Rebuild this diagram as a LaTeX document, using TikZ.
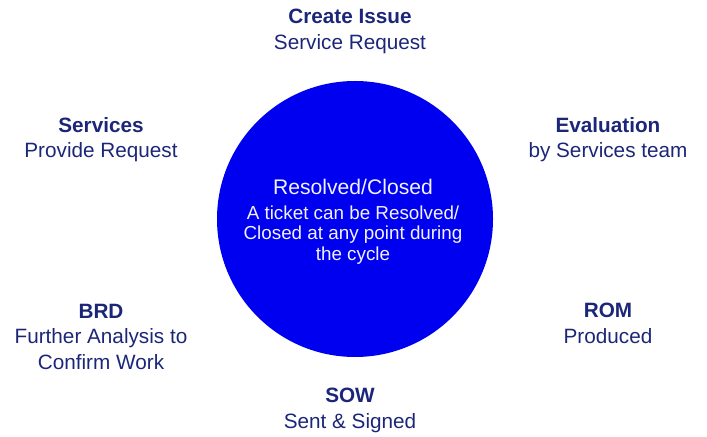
\documentclass[tikz,border=0pt]{standalone}
\usepackage{fontspec}
\setmainfont{Liberation Sans}
\definecolor{navy}{RGB}{28,38,120}
\definecolor{cblue}{RGB}{0,0,240}
\begin{document}
\begin{tikzpicture}[x=1bp,y=-1bp,
  lbl/.style={text=navy,align=center,font=\fontsize{20.8}{25.6}\selectfont,inner sep=0pt},
  hub/.style={circle,fill=cblue,minimum size=276bp,inner sep=0pt}]
\useasboundingbox (0,0) rectangle (707,437);
\node[hub] (hub) at (355,219) {};
\node[text=white!95!blue,align=center,inner sep=0pt,font=\fontsize{18.9}{20.6}\selectfont] (ctext) at (353,221.8)
  {{\fontsize{21.2}{24}\selectfont Resolved/Closed}\\[4pt] A ticket can be Resolved/\\Closed at any point during\\the cycle};
\node[lbl] (create) at (350,31.5) {\textbf{Create Issue}\\Service Request};
\node[lbl] (services) at (101,139.5) {\textbf{Services}\\Provide Request};
\node[lbl] (eval) at (608,139.5) {\textbf{Evaluation}\\by Services team};
\node[lbl] (brd) at (101,336.5) {\textbf{BRD}\\Further Analysis to\\Confirm Work};
\node[lbl] (rom) at (608,323.5) {\textbf{ROM}\\Produced};
\node[lbl] (sow) at (350,410.5) {\textbf{SOW}\\Sent \& Signed};
\end{tikzpicture}
\end{document}
